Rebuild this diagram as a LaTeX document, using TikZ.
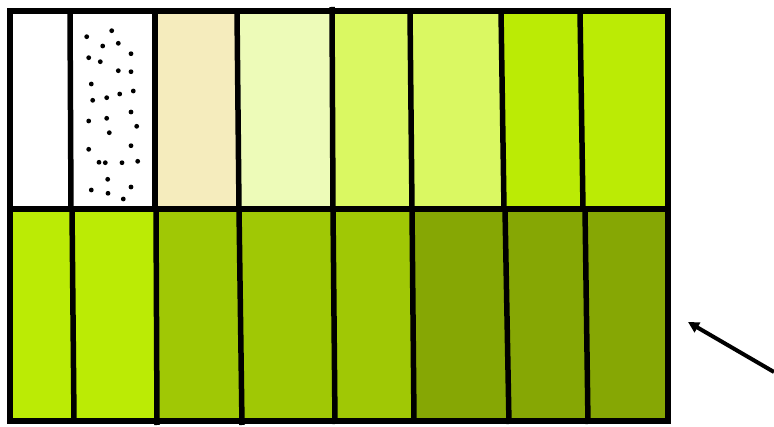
\documentclass[tikz,border=0pt]{standalone}
\usetikzlibrary{arrows.meta}

\definecolor{cream}{HTML}{F5ECBD}
\definecolor{palegreen}{HTML}{EDFBB8}
\definecolor{lightgreen}{HTML}{DAF862}
\definecolor{brightgreen}{HTML}{BBEB05}
\definecolor{midgreen}{HTML}{A0C805}
\definecolor{darkgreen}{HTML}{86A704}

\begin{document}
\begin{tikzpicture}[x=1pt, y=-1pt, line width=5.5pt]
            \useasboundingbox (0,0) rectangle (774,427);

            % Top row cells
            \fill[white] (10,11) rectangle (155,209);
            \fill[cream] (155,11) rectangle (238,209);
            \fill[palegreen] (238,11) rectangle (332,209);
            \fill[lightgreen] (332,11) rectangle (502,209);
            \fill[brightgreen] (502,11) rectangle (668,209);

            % Bottom row cells
            \fill[brightgreen] (10,209) rectangle (156,421);
            \fill[midgreen] (156,209) rectangle (413,421);
            \fill[darkgreen] (413,209) rectangle (668,421);

            % Sand dots
            \foreach \dx/\dy in {86.7/36.7, 111.7/30.7, 102.7/46, 118.3/43.3, 131/53.7,
                88.7/57.7, 100.3/61.7, 118.3/70.7, 131/71.7, 91.3/84, 133.3/91,
                119.7/94, 106.7/97.7, 92.7/100.3, 131/112, 88.7/121, 106.7/118.3,
                136.7/126.3, 109.3/132.7, 88.7/149.3, 131/145.7, 99/162.3,
                105.3/162.7, 122/162.7, 137.7/161.3, 107.7/179.3, 91.3/190,
                108/193.3, 131/187, 123.3/199}
                \fill (\dx,\dy) circle (2.4);

            % Top row dividers
            \draw (70,11) -- (71,209);
            \draw (155,11) -- (155,209);
            \draw (237,11) -- (239,209);
            \draw (332,7) -- (333,209);
            \draw (410,11) -- (412,209);
            \draw (501,11) -- (504,209);
            \draw (580,11) -- (583,209);

            % Bottom row dividers
            \draw (72,209) -- (74,421);
            \draw (156,209) -- (157,425);
            \draw (239,209) -- (242,425);
            \draw (333,209) -- (335,424);
            \draw (412,209) -- (414,421);
            \draw (505,209) -- (509,424);
            \draw (585,209) -- (588,424);

            % Outline and middle line
            \draw (10,209) -- (668,209);
            \draw (10,11) rectangle (668,421);

            % Arrow
            \coordinate (tail) at (774,372);
            \coordinate (tip) at (688,322);
            \draw[line width=4pt, -{Triangle[length=11pt, width=11pt]}] (tail) -- (tip);

        \end{tikzpicture}
\end{document}
